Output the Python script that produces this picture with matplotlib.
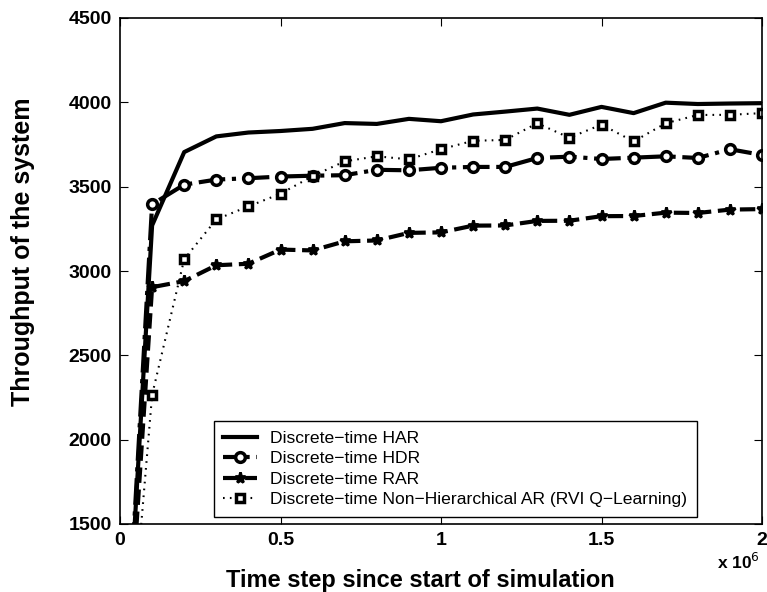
import matplotlib
matplotlib.use("Agg")
import matplotlib.pyplot as plt
from matplotlib.ticker import FuncFormatter

plt.rcParams['font.family'] = ['Liberation Sans', 'DejaVu Sans']

steps = [0, 100000, 200000, 300000, 400000, 500000, 600000, 700000, 800000, 900000,
         1000000, 1100000, 1200000, 1300000, 1400000, 1500000, 1600000, 1700000,
         1800000, 1900000, 2000000]

har = [0, 3270, 3705, 3798, 3821, 3830, 3843, 3877, 3872, 3902, 3888, 3928, 3945,
       3963, 3926, 3973, 3936, 3998, 3990, 3993, 3995]
hdr = [0, 3395, 3512, 3542, 3550, 3560, 3565, 3568, 3600, 3597, 3612, 3617, 3617,
       3670, 3678, 3664, 3672, 3680, 3670, 3722, 3688]
rar = [0, 2904, 2940, 3034, 3043, 3127, 3122, 3176, 3181, 3226, 3229, 3269, 3270,
       3297, 3298, 3325, 3326, 3346, 3344, 3364, 3367]
rvi = [0, 2265, 3070, 3306, 3383, 3458, 3563, 3650, 3680, 3662, 3722, 3772, 3777,
       3876, 3790, 3868, 3768, 3876, 3925, 3926, 3936]

labels = ['Discrete\u2212time HAR', 'Discrete\u2212time HDR', 'Discrete\u2212time RAR',
          'Discrete\u2212time Non\u2212Hierarchical AR (RVI Q\u2212Learning)']
xticks = [0, 500000, 1000000, 1500000, 2000000]
yticks = [1500, 2000, 2500, 3000, 3500, 4000, 4500]

fig = plt.figure(figsize=(7.67, 5.92), dpi=100)
ax = fig.add_axes([120/767, 1-524/592, (762-120)/767, (524-18)/592])

ax.plot(steps, har, '-', color='black', lw=3, label=labels[0])
ax.plot(steps, hdr, '-.', color='black', lw=3, marker='o', ms=7, mfc='white', mew=2.5, label=labels[1])
ax.plot(steps, rar, '--', color='black', lw=3, marker='*', ms=8, mew=2, label=labels[2])
ax.plot(steps, rvi, color='black', lw=1.5, ls=(0, (0.8, 2.5)), marker='s', ms=6, mfc='white', mew=2.5,
        label=labels[3])

ax.set_xlim(0, 2000000)
ax.set_ylim(1500, 4500)
ax.set_xticks(xticks)
ax.set_yticks(yticks)
ax.xaxis.set_major_formatter(FuncFormatter(lambda v, p: ('%g' % (v / 1e6))))
ax.tick_params(direction='in', top=True, right=True, length=6, width=0.8, labelsize=14, pad=6)
for t in ax.get_xticklabels() + ax.get_yticklabels():
    t.set_fontweight('bold')
for s in ax.spines.values():
    s.set_linewidth(1.2)

fig.text(420/767, 1 - 587/592, 'Time step since start of simulation',
         ha='center', va='baseline', fontsize=17, fontweight='bold')
fig.text(23/767, 1 - 252/592, 'Throughput of the system', rotation=90,
         ha='center', va='center', fontsize=18, fontweight='bold')
fig.text(760/767, 1 - 562/592, r'x 10$^{6}$', ha='right', va='center',
         fontsize=12.5, fontweight='bold')

leg = ax.legend(loc='lower right', bbox_to_anchor=(697/767, 1-517/592), bbox_transform=fig.transFigure,
                fontsize=12.6, frameon=True, fancybox=False, edgecolor='black', framealpha=1,
                borderpad=0.55, labelspacing=0.3, handlelength=1.95, handletextpad=0.74, borderaxespad=0)
leg.get_frame().set_linewidth(1.0)

fig.savefig('out.png', dpi=100)
